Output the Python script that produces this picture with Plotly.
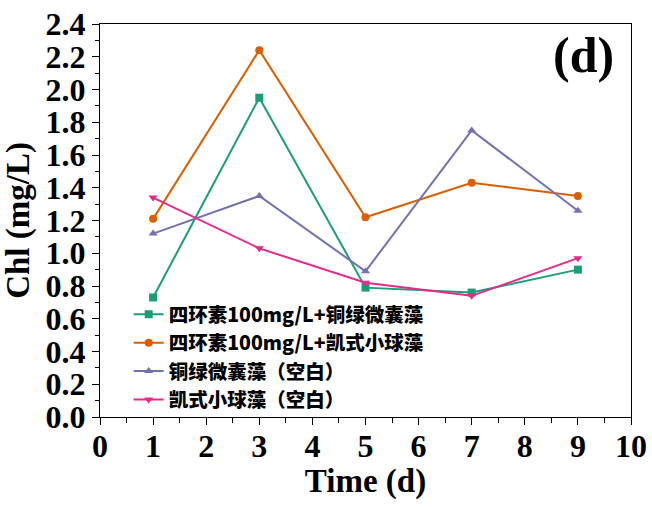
import plotly.graph_objects as go

days = [1, 3, 5, 7, 9]
names = ["四环素100mg/L+铜绿微囊藻", "四环素100mg/L+凯式小球藻", "铜绿微囊藻（空白）", "凯式小球藻（空白）"]
green = [0.73, 1.95, 0.79, 0.76, 0.90]
orange = [1.21, 2.24, 1.22, 1.43, 1.35]
purple = [1.12, 1.35, 0.89, 1.75, 1.26]
pink = [1.34, 1.03, 0.82, 0.74, 0.97]
series = [green, orange, purple, pink]
colors = ["#1b9e77", "#d95f02", "#7570b3", "#e7298a"]
symbols = ["square", "circle", "triangle-up", "triangle-down"]
xticks = list(range(0, 11))
yticks = [round(0.2 * i, 1) for i in range(13)]

fig = go.Figure()
for i, (n, s, c, m) in enumerate(zip(names, series, colors, symbols)):
    fig.add_trace(go.Scatter(x=days, y=s, name=n, mode="lines+markers",
                             line=dict(color=c, width=2),
                             marker=dict(symbol=m, size=8, color=c)))

serif = "Liberation Serif"
fig.update_layout(
    width=652, height=507,
    margin=dict(l=100, r=21, t=24, b=90),
    paper_bgcolor="white", plot_bgcolor="white",
    font=dict(family=serif, size=32, color="black"),
    showlegend=True,
    legend=dict(x=0.054, y=0.31, xanchor="left", yanchor="top",
                bgcolor="rgba(0,0,0,0)",
                font=dict(family="Noto Sans CJK SC", size=19.5, color="black", weight=900),
                tracegroupgap=0),
    xaxis=dict(range=[0, 10], tickvals=xticks, ticktext=[f"<b>{v}</b>" for v in xticks],
               automargin=False, ticklabelstandoff=-7, ticklabeloverflow="allow",
               showline=True, mirror=True, linecolor="black", linewidth=1.2,
               ticks="outside", ticklen=7, tickwidth=1.2, tickcolor="black",
               minor=dict(dtick=0.5, ticks="outside", ticklen=5, tickwidth=1.2, tickcolor="black"),
               showgrid=False, zeroline=False,
               tickfont=dict(family=serif, size=32, color="black"),
               title=dict(text="<b>Time (d)</b>", font=dict(family=serif, size=33, color="black"), standoff=6)),
    yaxis=dict(range=[0, 2.4], tickvals=yticks, ticktext=[f"<b>{v:.1f}</b>" for v in yticks],
               automargin=False, ticklabeloverflow="allow",
               showline=True, mirror=True, linecolor="black", linewidth=1.2,
               ticks="outside", ticklen=7, tickwidth=1.2, tickcolor="black",
               minor=dict(dtick=0.1, ticks="outside", ticklen=4, tickwidth=1.2, tickcolor="black"),
               showgrid=False, zeroline=False,
               tickfont=dict(family=serif, size=32, color="black"),
               title=dict(text="<b>Chl (mg/L)</b>", font=dict(family=serif, size=33, color="black"), standoff=6)),
)
fig.add_annotation(x=0.91, y=0.92, xref="paper", yref="paper", xanchor="center", yanchor="middle",
                   text="<b>(d)</b>", showarrow=False,
                   font=dict(family=serif, size=50, color="black"))
# remove the browser's default 8px body margin so the figure fills the window exactly
fig.write_html("out.html", config={"displayModeBar": False},
               post_script="document.body.style.margin='0px';")
